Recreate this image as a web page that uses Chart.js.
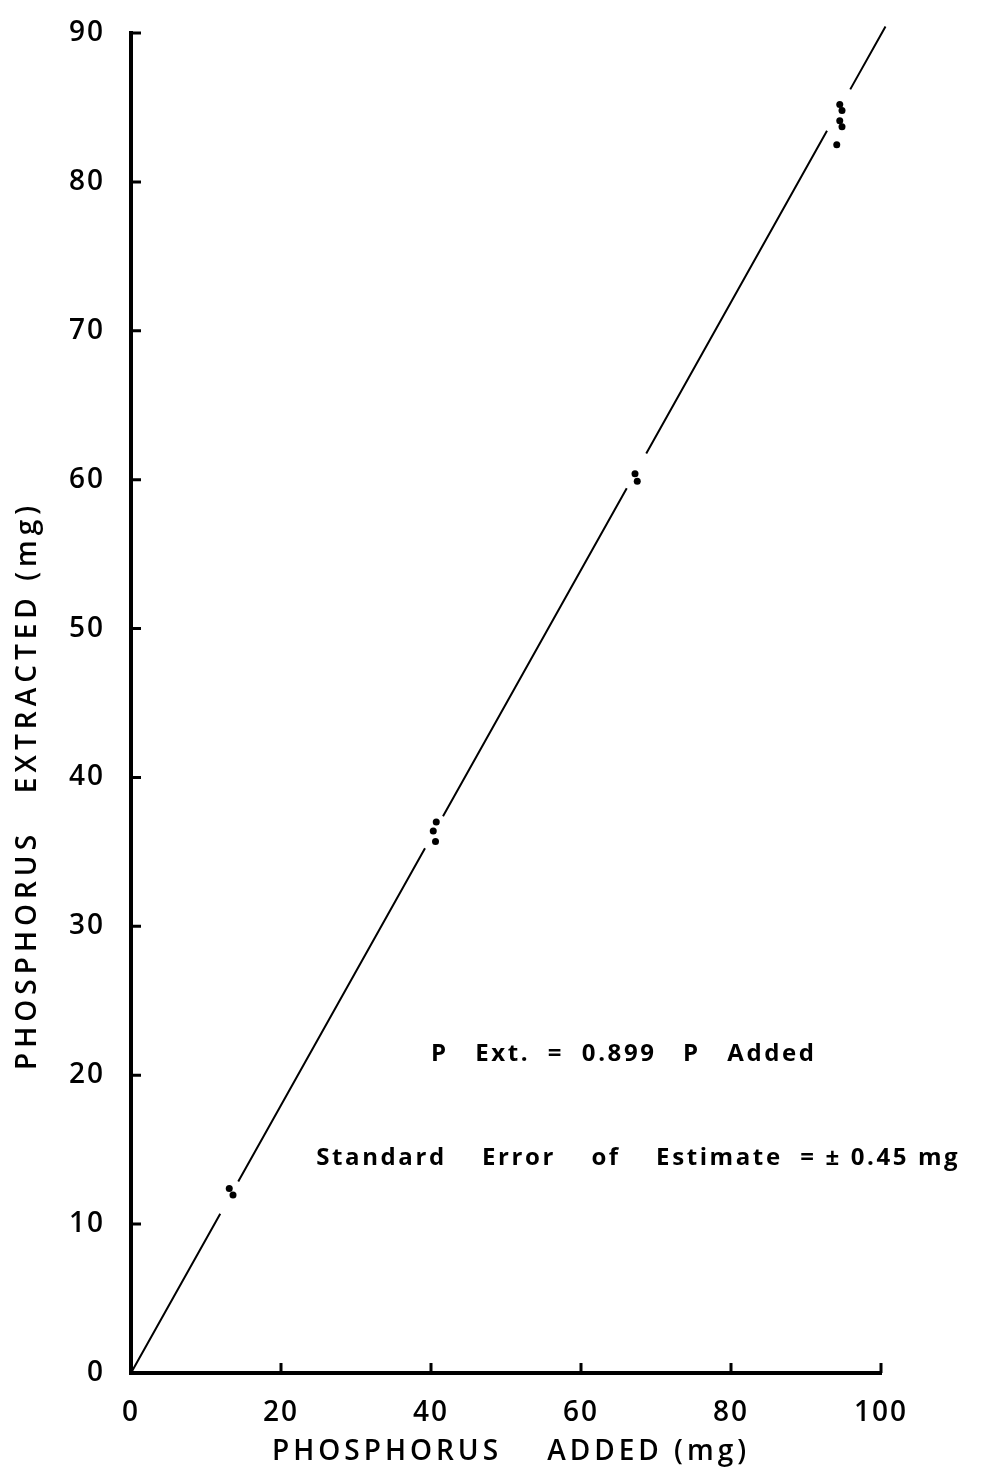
<!DOCTYPE html>
<html>
<head>
<meta charset="utf-8">
<script src="https://cdn.jsdelivr.net/npm/chart.js@4"></script>
<style>
  html, body { margin: 0; padding: 0; background: #fff; }
  #wrap { width: 988px; height: 1473px; }
</style>
</head>
<body>
<div id="wrap"><canvas id="fosforo-chart"></canvas></div>
<script>
// Dados
const fosforoAdicionado = [13.1, 13.6, 40.7, 40.3, 40.6, 67.2, 67.5, 94.5, 94.8, 94.5, 94.8, 94.1];
const fosforoExtraido   = [12.4, 11.95, 37.0, 36.4, 35.7, 60.4, 59.9, 85.2, 84.8, 84.1, 83.7, 82.5];

// Reta ajustada: P Ext. = 0.899 P Added (interrompida perto dos pontos)
const inclinacao = 0.899;
const trechosReta = [[0, 11.9], [14.3, 39.2], [41.6, 66.1], [68.7, 92.8], [95.9, 100.6]];

const ticksX = [0, 20, 40, 60, 80, 100];
const ticksY = [0, 10, 20, 30, 40, 50, 60, 70, 80, 90];

const tituloX = 'PHOSPHORUS    ADDED (mg)';
const tituloY = 'PHOSPHORUS   EXTRACTED (mg)';
const textoEquacao = 'P   Ext.  =  0.899   P   Added';
const textoErro = 'Standard    Error    of    Estimate  = ± 0.45 mg';

const pontos = fosforoAdicionado.map((x, i) => ({ x: x, y: fosforoExtraido[i] }));
const reta = [];
trechosReta.forEach((t, i) => {
    if (i > 0) reta.push({ x: t[0] - 0.1, y: null });
    reta.push({ x: t[0], y: inclinacao * t[0] });
    reta.push({ x: t[1], y: inclinacao * t[1] });
});

const fonte = '"Open Sans", "DejaVu Sans", sans-serif';

// Marcas dos eixos para dentro, títulos e anotações
const pluginDesenho = {
    id: 'desenho',
    beforeDraw(chart) {
        chart.ctx.letterSpacing = '2px';
    },
    afterDraw(chart) {
        const ctx = chart.ctx;
        const sx = chart.scales.x, sy = chart.scales.y;
        const area = chart.chartArea;
        ctx.save();
        ctx.strokeStyle = '#000';
        ctx.lineWidth = 3;
        ctx.beginPath();
        ticksY.forEach(v => {
            if (v === 0) return;
            const py = sy.getPixelForValue(v);
            ctx.moveTo(area.left, py);
            ctx.lineTo(area.left + 10, py);
        });
        ticksX.forEach(v => {
            if (v === 0) return;
            const px = sx.getPixelForValue(v);
            ctx.moveTo(px, area.bottom);
            ctx.lineTo(px, area.bottom - 10);
        });
        ctx.stroke();

        ctx.fillStyle = '#000';
        ctx.letterSpacing = '4px';
        ctx.font = '600 28px ' + fonte;
        ctx.textBaseline = 'middle';
        ctx.textAlign = 'left';
        ctx.fillText(tituloX, 272, 1452);
        ctx.save();
        ctx.translate(28, 1070);
        ctx.rotate(-Math.PI / 2);
        ctx.letterSpacing = '5px';
        ctx.fillText(tituloY, 0, 0);
        ctx.restore();

        ctx.letterSpacing = '2.6px';
        ctx.font = 'bold 24px ' + fonte;
        ctx.fillText(textoEquacao, sx.getPixelForValue(40), sy.getPixelForValue(21.4));
        ctx.fillText(textoErro, sx.getPixelForValue(24.7), sy.getPixelForValue(14.4));
        ctx.restore();
    }
};

const ctx = document.getElementById('fosforo-chart');
new Chart(ctx, {
    type: 'scatter',
    data: {
        datasets: [
            {
                label: 'Reta',
                data: reta,
                showLine: true,
                spanGaps: false,
                borderColor: '#000',
                borderWidth: 2,
                pointRadius: 0,
                clip: false
            },
            {
                label: 'Pontos',
                data: pontos,
                backgroundColor: '#000',
                borderColor: '#000',
                pointRadius: 3.5,
                borderWidth: 0
            }
        ]
    },
    options: {
        responsive: true,
        maintainAspectRatio: false,
        animation: false,
        layout: { padding: { top: 33, right: 107, bottom: 0, left: 0 } },
        plugins: {
            legend: { display: false },
            tooltip: { enabled: false }
        },
        scales: {
            x: {
                type: 'linear',
                min: 0,
                max: 100,
                afterFit: s => { s.height = 100; s.paddingLeft = 0; s.paddingRight = 0; },
                afterBuildTicks: s => { s.ticks = ticksX.map(v => ({ value: v })); },
                grid: { display: false },
                border: { color: '#000', width: 4 },
                ticks: {
                    padding: 15,
                    color: '#000',
                    font: { family: fonte, size: 28, weight: '600' }
                }
            },
            y: {
                type: 'linear',
                min: 0,
                max: 90,
                afterFit: s => { s.width = 131; s.paddingTop = 0; s.paddingBottom = 0; },
                afterBuildTicks: s => { s.ticks = ticksY.map(v => ({ value: v })); },
                grid: { display: false },
                border: { color: '#000', width: 4 },
                ticks: {
                    padding: 18,
                    color: '#000',
                    font: { family: fonte, size: 28, weight: '600' }
                }
            }
        }
    },
    plugins: [pluginDesenho]
});
</script>
</body>
</html>
